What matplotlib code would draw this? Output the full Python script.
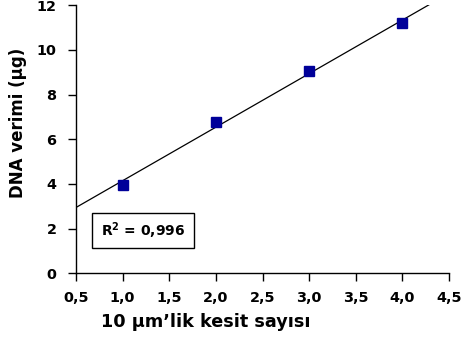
import numpy as np
import matplotlib
matplotlib.use('Agg')
import matplotlib.pyplot as plt
from matplotlib.patches import Rectangle

plt.rcParams['font.family'] = ['DejaVu Sans']
plt.rcParams['font.weight'] = 'bold'

kesit = [1, 2, 3, 4]  # number of sections
verim = [3.95, 6.77, 9.05, 11.18]  # DNA yield (ug)
xticks = [0.5, 1.0, 1.5, 2.0, 2.5, 3.0, 3.5, 4.0, 4.5]
yticks = [0, 2, 4, 6, 8, 10, 12]

fig = plt.figure(figsize=(4.62, 3.42), dpi=100)
ax = fig.add_axes([0.1645, 0.201, 0.8075, 0.784])

# trend line
m, b = np.polyfit(kesit, verim, 1)
xl = np.array([0.5, 4.5])
ax.plot(xl, m*xl + b, color='black', lw=0.9, zorder=2)
ax.plot(kesit, verim, 's', color='#000099', markersize=6.7, zorder=3)

ax.set_xlim(0.5, 4.5)
ax.set_ylim(0, 12)
ax.set_xticks(xticks)
ax.set_xticklabels([('%.1f' % v).replace('.', ',') for v in xticks])
ax.set_yticks(yticks)
ax.tick_params(direction='out', length=5.5, width=1, labelsize=10.4)
ax.tick_params(axis='x', pad=7.5)
ax.tick_params(axis='y', pad=8.5)
for s in ['top', 'right']:
    ax.spines[s].set_visible(False)
for s in ['left', 'bottom']:
    ax.spines[s].set_linewidth(1)

ax.set_xlabel('10 µm’lik kesit sayısı', fontsize=12.7, fontweight='bold')
ax.xaxis.set_label_coords(0.349, -0.148)
ax.set_ylabel('DNA verimi (µg)', fontsize=12, fontweight='bold')
ax.yaxis.set_label_coords(-0.131, 0.56)

# R^2 box
ax.add_patch(Rectangle((0.671, 1.13), 1.094, 1.57, fc='white', ec='black', lw=1, zorder=4))
ax.text(1.218, 1.915, 'R$^{\\mathbf{2}}$ = 0,996', fontsize=10, fontweight='bold',
        ha='center', va='center', zorder=5)

fig.savefig('out.png', dpi=100)
